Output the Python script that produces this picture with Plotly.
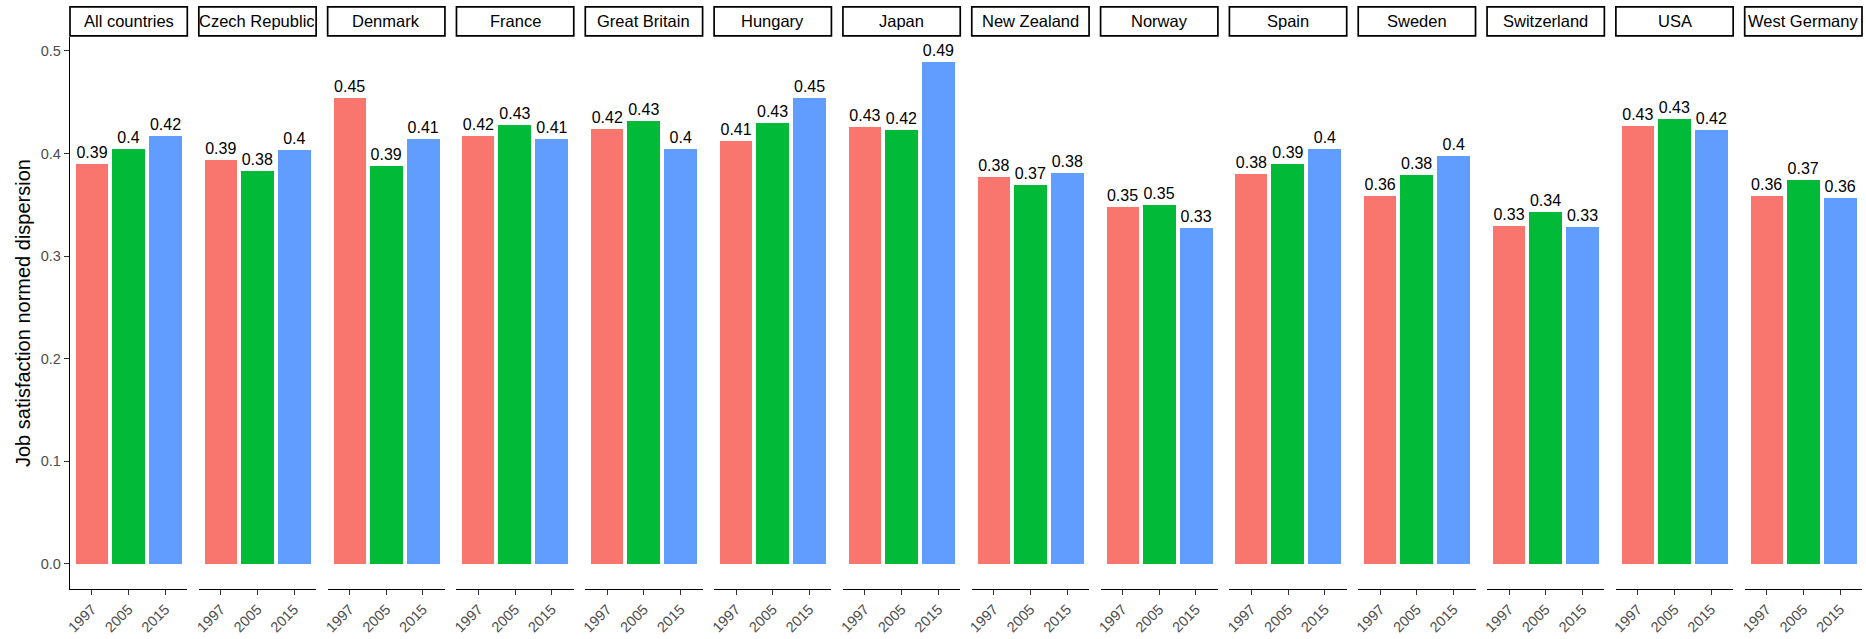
import plotly.graph_objects as go

countries = ["All countries", "Czech Republic", "Denmark", "France", "Great Britain",
             "Hungary", "Japan", "New Zealand", "Norway", "Spain", "Sweden",
             "Switzerland", "USA", "West Germany"]
years = ["1997", "2005", "2015"]
v1997 = [0.390, 0.394, 0.454, 0.417, 0.424, 0.412, 0.426, 0.377, 0.348, 0.380, 0.359, 0.329, 0.427, 0.359]
v2005 = [0.404, 0.383, 0.388, 0.428, 0.432, 0.430, 0.423, 0.369, 0.350, 0.390, 0.379, 0.343, 0.434, 0.374]
v2015 = [0.417, 0.403, 0.414, 0.414, 0.404, 0.454, 0.489, 0.381, 0.327, 0.404, 0.398, 0.328, 0.423, 0.357]
colors = ["#F8766D", "#00BA38", "#619CFF"]
y_title = "Job satisfaction normed dispersion"

W, H = 1866, 639
L, R, T, B = 70, 4, 37, 48
pw = W - L - R
ph = H - T - B
n = len(countries)
panel_w = 117.3
gap = (pw - n * panel_w) / (n - 1)

FONT = "Arial, Liberation Sans, sans-serif"

fig = go.Figure()
shapes = []
annotations = []
series = [v1997, v2005, v2015]

for i, c in enumerate(countries):
    x0 = i * (panel_w + gap) / pw
    x1 = (i * (panel_w + gap) + panel_w) / pw
    xa = "x" if i == 0 else f"x{i+1}"
    vals = [s[i] for s in series]
    fig.add_trace(go.Bar(
        x=years, y=vals, xaxis=xa, yaxis="y",
        marker=dict(color=colors, line=dict(width=0)),
        width=0.9,
        text=[f"{round(v, 2):g}" for v in vals],
        textposition="outside", constraintext="none", cliponaxis=False,
        textfont=dict(family=FONT, size=16, color="black"),
        showlegend=False, hoverinfo="x+y",
    ))
    axname = "xaxis" if i == 0 else f"xaxis{i+1}"
    fig.layout[axname] = dict(
        domain=[x0, x1], anchor="y", type="category",
        categoryorder="array", categoryarray=years,
        range=[-0.6, 2.6], showline=True, linecolor="black", linewidth=1.3,
        ticks="outside", ticklen=5, tickcolor="#333333", tickwidth=1.2,
        tickangle=-45, tickfont=dict(family=FONT, size=14.5, color="#4D4D4D"),
        showgrid=False, zeroline=False, fixedrange=True,
    )
    shapes.append(dict(type="rect", xref="paper", yref="paper",
                       x0=x0, x1=x1, y0=1 + 1.2 / ph, y1=1 + 30.3 / ph,
                       line=dict(color="black", width=1.7), fillcolor="white"))
    annotations.append(dict(text=c, xref="paper", yref="paper",
                            x=(x0 + x1) / 2, y=1 + 15.75 / ph,
                            xanchor="center", yanchor="middle", showarrow=False,
                            font=dict(family=FONT, size=16.5, color="black")))

# y-axis title as a rotated annotation, centred over the panels
annotations.append(dict(text=y_title, xref="paper", yref="paper",
                        x=(23 - L) / pw, y=0.5, textangle=-90,
                        xanchor="center", yanchor="middle", showarrow=False,
                        font=dict(family=FONT, size=20, color="black")))

fig.update_layout(
    width=W, height=H,
    margin=dict(l=L, r=R, t=T, b=B, pad=0),
    paper_bgcolor="white", plot_bgcolor="white",
    bargap=0, barmode="group",
    yaxis=dict(
        domain=[0, 1], anchor="x", range=[-0.0245, 0.5135],
        tickvals=[0, 0.1, 0.2, 0.3, 0.4, 0.5], tickformat=".1f",
        showline=True, linecolor="black", linewidth=1.3,
        ticks="outside", ticklen=5, tickcolor="#333333", tickwidth=1.2,
        tickfont=dict(family=FONT, size=14.5, color="#4D4D4D"),
        showgrid=False, zeroline=False, fixedrange=True,
    ),
    shapes=shapes, annotations=annotations,
    showlegend=False,
)

fig.write_html("out.html", config={"displayModeBar": False},
               post_script="document.body.style.margin='0';document.body.style.overflow='hidden';")
